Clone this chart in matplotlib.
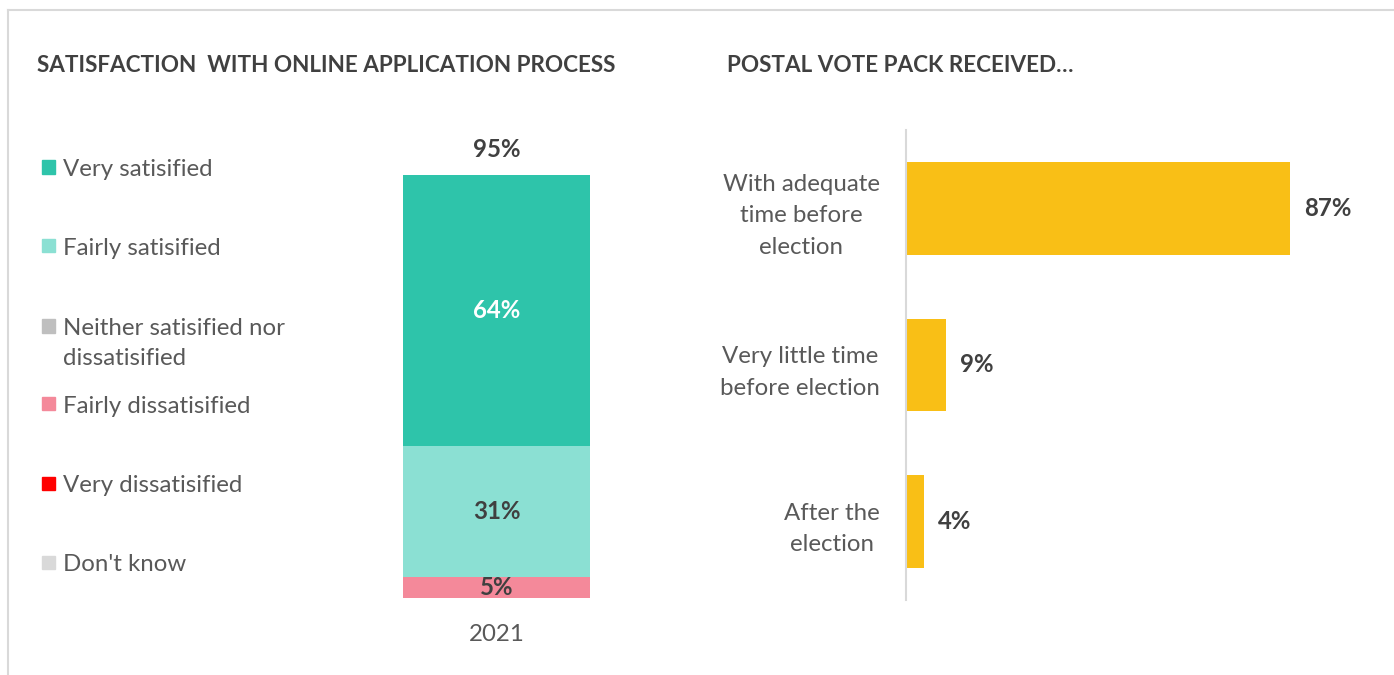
import matplotlib.pyplot as plt
from matplotlib.patches import Rectangle
from matplotlib.lines import Line2D

plt.rcParams['font.family'] = ['Lato', 'DejaVu Sans']

# Satisfaction with the online application process (2021)
sat_labels = ['Very satisified', 'Fairly satisified',
              'Neither satisified nor\ndissatisified', 'Fairly dissatisified',
              'Very dissatisified', "Don't know"]
sat_colors = ['#2EC4AA', '#8BE0D3', '#BFBFBF', '#F4899A', '#FF0000', '#D9D9D9']
sat_values = [64, 31, 0, 5, 0, 0]
sat_year = '2021'
sat_total = 95  # very + fairly satisfied

# Postal vote pack timing
pack_labels = ['With adequate\ntime before\nelection', 'Very little time\nbefore election',
               'After the\nelection']
pack_values = [87, 9, 4]

W, H = 1394, 675
fig = plt.figure(figsize=(W / 100, H / 100), dpi=100)


def box(x0, y0, x1, y1):
    # pixel box (top-left origin) -> figure fraction rect
    return [x0 / W, 1 - y1 / H, (x1 - x0) / W, (y1 - y0) / H]


dark = '#404040'
grey = '#595959'
fs = 17.3

# outer frame (top and left edges)
fig.add_artist(Line2D([8 / W, 1], [1 - 10 / H, 1 - 10 / H], color='#D9D9D9', lw=1.5,
                      transform=fig.transFigure))
fig.add_artist(Line2D([8 / W, 8 / W], [0, 1 - 10 / H], color='#D9D9D9', lw=1.5,
                      transform=fig.transFigure))

fig.text(37 / W, 1 - 65 / H, 'SATISFACTION  WITH ONLINE APPLICATION PROCESS',
         fontsize=16.2, fontweight='bold', color=dark, va='center', ha='left')
fig.text(727 / W, 1 - 65 / H, 'POSTAL VOTE PACK RECEIVED…',
         fontsize=16.2, fontweight='bold', color=dark, va='center', ha='left')

# legend for the stacked bar
legend_y = [167, 246, 326, 404, 483, 562]
for lab, col, y in zip(sat_labels, sat_colors, legend_y):
    fig.add_artist(Rectangle((42 / W, 1 - (y + 6.5) / H), 13 / W, 13 / H,
                             color=col, transform=fig.transFigure))
    fig.text(63 / W, 1 - (y - 14) / H, lab, fontsize=fs, color=grey, ha='left',
             va='top', linespacing=1.55).set_y(1 - (y - 8) / H)

# stacked bar, first category on top
ax1 = fig.add_axes(box(340, 175, 653, 598))
bottom = 0
for val, col in zip(sat_values[::-1], sat_colors[::-1]):
    if val == 0:
        continue
    ax1.bar(0, val, bottom=bottom, width=0.6, color=col)
    txt_col = 'white' if col == '#2EC4AA' else dark
    ax1.text(0, bottom + val / 2, f'{val}%', ha='center', va='center',
             fontsize=fs, fontweight='bold', color=txt_col)
    bottom += val
ax1.text(0, bottom + 6, f'{sat_total}%', ha='center', va='center',
         fontsize=fs, fontweight='bold', color=dark, clip_on=False)
ax1.set_xlim(-0.5, 0.5)
ax1.set_ylim(0, 100)
ax1.set_xticks([0])
ax1.set_xticklabels([sat_year], fontsize=fs, color=grey)
ax1.tick_params(axis='x', length=0, pad=19)
ax1.set_yticks([])
for s in ax1.spines.values():
    s.set_visible(False)

# horizontal bars
ax2 = fig.add_axes(box(906, 130, 1347, 600))
ypos = range(len(pack_values))
ax2.barh(ypos, pack_values, height=0.59, color='#F9BF16')
for y, v in zip(ypos, pack_values):
    ax2.text(v + 3.2, y, f'{v}%', ha='left', va='center', fontsize=fs,
             fontweight='bold', color=dark)
ax2.set_ylim(2.5, -0.5)
ax2.set_xlim(0, 100)
ax2.set_yticks(list(ypos))
ax2.set_yticklabels(pack_labels, fontsize=fs, color=grey, multialignment='center',
                    linespacing=1.62)
ax2.tick_params(axis='y', length=0, pad=19)
ax2.set_xticks([])
for k in ['top', 'right', 'bottom']:
    ax2.spines[k].set_visible(False)
ax2.spines['left'].set_color('#D9D9D9')
ax2.spines['left'].set_linewidth(1.5)

plt.savefig('out.png', dpi=100, facecolor='white')
